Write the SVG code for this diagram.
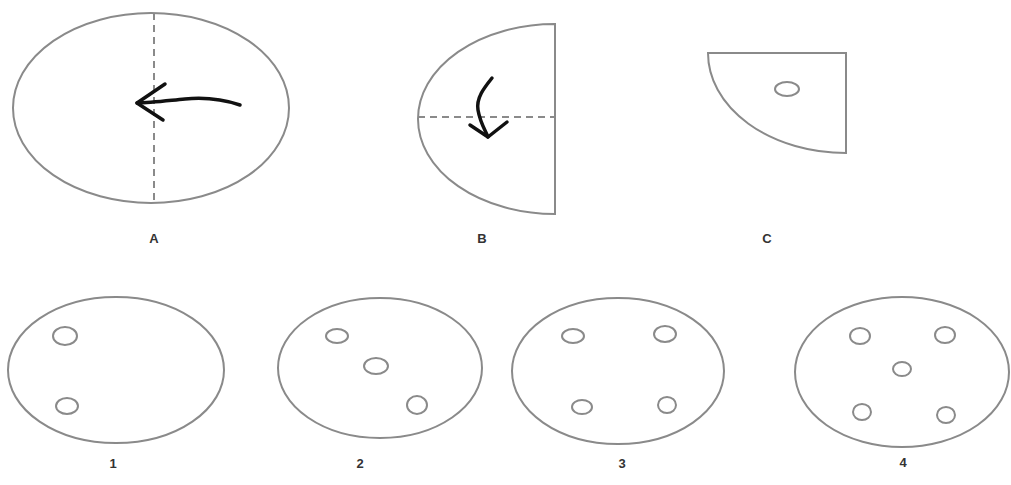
<svg xmlns="http://www.w3.org/2000/svg" width="1011" height="485" viewBox="0 0 1011 485">
<style>
.s{fill:none;stroke:#8a8a8a;stroke-width:2}
.h{fill:none;stroke:#8a8a8a;stroke-width:2}
.d{fill:none;stroke:#8a8a8a;stroke-width:2;stroke-dasharray:7 5}
.a{fill:none;stroke:#111;stroke-width:3.5;stroke-linecap:round;stroke-linejoin:round}
.t{font-family:"Liberation Sans",Arial,sans-serif;font-weight:bold;font-size:13px;fill:#333;text-anchor:middle}
</style>
<rect width="1011" height="485" fill="#fff"/>
<g id="figA">
<ellipse class="s" cx="151" cy="108" rx="138" ry="95"/>
<line class="d" x1="154" y1="13" x2="154" y2="203"/>
<path class="a" d="M240,105 C225,100 205,97 185,99 C165,101 150,103 137,103"/>
<path class="a" d="M165,84 L137,103 L163,120"/>
<text class="t" x="154" y="243">A</text>
</g>
<g id="figB">
<path class="s" d="M555,24 A137,95 0 0 0 555,214 Z"/>
<line class="d" x1="418" y1="117" x2="555" y2="117"/>
<path class="a" d="M492,78 C484,88 476,98 478,110 C480,122 485,130 488,137"/>
<path class="a" d="M470,125 L488,137 L507,122"/>
<text class="t" x="482" y="243">B</text>
</g>
<g id="figC">
<path class="s" d="M708,53 L846,53 L846,153 A138,100 0 0 1 708,53 Z"/>
<ellipse class="h" cx="787" cy="89" rx="12" ry="7"/>
<text class="t" x="767" y="243">C</text>
</g>
<g id="opt1">
<ellipse class="s" cx="116" cy="370" rx="108" ry="73"/>
<ellipse class="h" cx="65" cy="336" rx="12" ry="9"/>
<ellipse class="h" cx="67" cy="406" rx="11" ry="8"/>
<text class="t" x="113" y="468">1</text>
</g>
<g id="opt2">
<ellipse class="s" cx="380" cy="368" rx="102" ry="70"/>
<ellipse class="h" cx="337" cy="336" rx="11" ry="7"/>
<ellipse class="h" cx="376" cy="366" rx="12" ry="8"/>
<ellipse class="h" cx="417" cy="405" rx="10" ry="9"/>
<text class="t" x="360" y="468">2</text>
</g>
<g id="opt3">
<ellipse class="s" cx="618" cy="371" rx="106" ry="73"/>
<ellipse class="h" cx="573" cy="336" rx="11" ry="7"/>
<ellipse class="h" cx="665" cy="334" rx="11" ry="8"/>
<ellipse class="h" cx="582" cy="407" rx="10" ry="7"/>
<ellipse class="h" cx="667" cy="405" rx="9" ry="8"/>
<text class="t" x="622" y="468">3</text>
</g>
<g id="opt4">
<ellipse class="s" cx="902" cy="372" rx="107" ry="75"/>
<ellipse class="h" cx="860" cy="336" rx="10" ry="8"/>
<ellipse class="h" cx="945" cy="335" rx="10" ry="8"/>
<ellipse class="h" cx="902" cy="369" rx="9" ry="7"/>
<ellipse class="h" cx="862" cy="412" rx="9" ry="8"/>
<ellipse class="h" cx="946" cy="415" rx="9" ry="8"/>
<text class="t" x="903" y="467">4</text>
</g>
<g id="connectors"></g>
</svg>
